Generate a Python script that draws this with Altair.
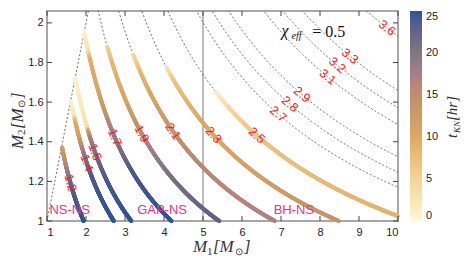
import numpy as np
import pandas as pd
import altair as alt

# ---------------- values ----------------
contour_levels = [1.2, 1.4, 1.5, 1.7, 1.9, 2.1, 2.3, 2.5, 2.7, 2.8, 2.9, 3.1, 3.2, 3.3, 3.6]
label_text = ["1.2", "1.4", "1.5", "1.7", "1.9", "2.1", "2.3", "2.5",
              "2.7", "2.8", "2.9", "3.1", "3.2", "3.3", "3.6"]
label_m1 = [1.60, 2.02, 2.23, 2.74, 3.43, 4.23, 5.27, 6.38, 6.93, 7.23, 7.54, 8.20, 8.44, 8.77, 9.72]

band_levels = [1.2, 1.4, 1.5, 1.7, 1.9, 2.1, 2.3, 2.5]
band_start_m2 = [1.37, 1.60, 1.72, 1.95, 1.88, 1.84, 1.77, 1.65]
band_node_m2 = [
    [1.37, 1.30, 1.24, 1.17, 1.00],
    [1.60, 1.53, 1.50, 1.42, 1.36, 1.30, 1.22, 1.00],
    [1.72, 1.47, 1.45, 1.42, 1.36, 1.30, 1.20, 1.00],
    [1.95, 1.86, 1.82, 1.65, 1.55, 1.45, 1.35, 1.25, 1.00],
    [1.88, 1.80, 1.60, 1.50, 1.40, 1.30, 1.20, 1.00],
    [1.84, 1.75, 1.60, 1.50, 1.40, 1.20, 1.00],
    [1.77, 1.70, 1.50, 1.30, 1.10, 1.00],
    [1.65, 1.55, 1.40, 1.20, 1.00],
]
band_node_t = [
    [12, 15, 19, 23, 25],
    [1, 2, 9, 12, 17, 21, 24, 25],
    [1, 3, 12, 17, 20, 22, 24, 25],
    [1, 3, 9, 11, 14, 18, 21, 24, 25],
    [5, 8, 11, 14, 17, 19, 21, 23],
    [4, 8, 11, 13, 15, 16, 17],
    [3, 7, 10, 11, 13, 14],
    [1, 5, 7, 8, 9],
]

region_text = ["NS-NS", "GAP-NS", "BH-NS"]
region_m1 = [1.58, 3.95, 7.33]
region_m2 = [1.055, 1.055, 1.055]

vline_m1 = [5]
diag_m = [1.0, 2.1]
x_ticks = [1, 2, 3, 4, 5, 6, 7, 8, 9, 10]
y_ticks = [1.0, 1.2, 1.4, 1.6, 1.8, 2.0]
legend_ticks = [0, 5, 10, 15, 20, 25]
cmap_colors = ["#fff7d6", "#f6d495", "#dfa862", "#bc9168", "#7d7880", "#2b5593"]

annot_text = ["χ", "eff", "= 0.5"]
annot_m1 = [7.015, 7.27, 7.80]
annot_m2 = [1.935, 1.918, 1.928]

# title pieces
xtitle_pieces = ["M", "1", "[M", "⊙", "]"]
ytitle_pieces = ["M", "2", "[M", "⊙", "]"]
ltitle_pieces = ["t", "KN", "[hr]"]

# ---------------- geometry ----------------
W, H = 351, 210
XMIN, XMAX, YMIN, YMAX = 1, 10, 1, 2.06
SX, SY = W / (XMAX - XMIN), H / (YMAX - YMIN)


def partner(mc, m):
    c = mc ** 5
    r = np.roots([m ** 3, 0.0, -c, -c * m])
    r = r[np.abs(r.imag) < 1e-9].real
    return float(r[r > 0].max())


rows = []
for lv in contour_levels:
    d = lv * 2 ** 0.2
    for m1 in np.linspace(d, 10, 400):
        m2 = partner(lv, m1)
        if m2 >= 0.99:
            rows.append({"lvl": lv, "m1": m1, "m2": m2})
contours = pd.DataFrame(rows)

diag = pd.DataFrame({"m1": diag_m, "m2": diag_m})

seg = []
for lv, s2, nm, nt in zip(band_levels, band_start_m2, band_node_m2, band_node_t):
    a = partner(lv, s2)
    b = min(10.0, partner(lv, 1.0))
    xs_ = np.linspace(a, b, 300)
    ys_ = np.array([partner(lv, v) for v in xs_])
    mids = 0.5 * (ys_[:-1] + ys_[1:])
    tv = np.interp(mids, nm[::-1], nt[::-1])
    for i in range(len(xs_) - 1):
        seg.append({"m1": xs_[i], "m2": ys_[i], "m1b": xs_[i + 1], "m2b": ys_[i + 1], "t": tv[i]})
bands = pd.DataFrame(seg)

lab = []
for txt, lv, m1 in zip(label_text, contour_levels, label_m1):
    m2 = partner(lv, m1)
    ya, yb_ = partner(lv, m1 - 0.03), partner(lv, m1 + 0.03)
    ang = np.degrees(np.arctan2(-(yb_ - ya) * SY, 0.06 * SX)) % 360
    lab.append({"txt": txt, "m1": m1, "m2": m2, "ang": ang})
labels = pd.DataFrame(lab)

regions = pd.DataFrame({"txt": region_text, "m1": region_m1, "m2": region_m2})

# ---------------- encodings ----------------
xs = alt.Scale(domain=[XMIN, XMAX], nice=False, zero=False)
ys = alt.Scale(domain=[YMIN, YMAX], nice=False, zero=False)
x_axis = alt.Axis(values=x_ticks, format="d", title=None, grid=False, ticks=False,
                  domain=False, labelPadding=5)
y_axis = alt.Axis(values=y_ticks, format=".1~f", title=None, grid=False, ticks=False,
                  domain=False, labelPadding=4)


def X(f="m1"):
    return alt.X(f"{f}:Q", scale=xs, axis=x_axis)


def Y(f="m2"):
    return alt.Y(f"{f}:Q", scale=ys, axis=y_axis)


vline = alt.Chart(pd.DataFrame({"m1": vline_m1})).mark_rule(
    color="#a6a6a6", strokeWidth=1.5).encode(x=X())

dashed = alt.Chart(contours).mark_line(
    strokeDash=[2, 2], strokeWidth=0.7, color="#333333", clip=True
).encode(x=X(), y=Y(), detail="lvl:N", order="m1:Q")

diag_line = alt.Chart(diag).mark_line(
    strokeDash=[2, 2], strokeWidth=0.7, color="#333333", clip=True
).encode(x=X(), y=Y())

band_chart = alt.Chart(bands).mark_rule(strokeWidth=4, strokeCap="round").encode(
    x=X(), y=Y(), x2="m1b:Q", y2="m2b:Q",
    color=alt.Color("t:Q", scale=alt.Scale(domain=legend_ticks, range=cmap_colors),
                    legend=alt.Legend(title=None, values=legend_ticks, gradientLength=H,
                                      gradientThickness=12, labelFontSize=11, offset=12,
                                      padding=0, labelOffset=4, labelColor="#222",
                                      labelFont="Liberation Sans", gradientStrokeWidth=0)),
)

label_chart = alt.Chart(labels).mark_text(
    color="#ff1414", fontSize=12.5, font="Liberation Sans", baseline="middle", align="center"
).encode(x=X(), y=Y(), text="txt:N", angle=alt.Angle("ang:Q", scale=None))

region_chart = alt.Chart(regions).mark_text(
    color="#e8318a", fontSize=13, font="Liberation Sans", baseline="middle", align="center"
).encode(x=X(), y=Y(), text="txt:N")

annot = pd.DataFrame({"txt": annot_text, "m1": annot_m1, "m2": annot_m2,
                      "fs": [16, 10, 16], "st": ["italic", "italic", "normal"]})
annot_layers = []
for i in range(len(annot)):
    r = annot.iloc[[i]]
    annot_layers.append(alt.Chart(r).mark_text(
        align="left", baseline="alphabetic", font="Liberation Serif",
        fontSize=float(r["fs"].iloc[0]), fontStyle=r["st"].iloc[0], color="#111"
    ).encode(x=X(), y=Y(), text="txt:N"))

tick_style = dict(color="#444", strokeWidth=1)
xt = pd.DataFrame({"m1": x_ticks})
yt = pd.DataFrame({"m2": y_ticks})
ticks = [
    alt.Chart(xt).mark_rule(**tick_style).encode(x=X(), y=alt.value(H), y2=alt.value(H - 5)),
    alt.Chart(xt).mark_rule(**tick_style).encode(x=X(), y=alt.value(0), y2=alt.value(5)),
    alt.Chart(yt).mark_rule(**tick_style).encode(y=Y(), x=alt.value(0), x2=alt.value(5)),
    alt.Chart(yt).mark_rule(**tick_style).encode(y=Y(), x=alt.value(W), x2=alt.value(W - 5)),
]


def piece(txt, px, py, size, angle=0, italic=True):
    kw = dict(align="left", baseline="alphabetic", font="Liberation Serif",
              fontStyle="italic" if italic else "normal", fontSize=size, color="#333")
    if angle:
        kw["angle"] = angle
    return alt.Chart(pd.DataFrame({"txt": [txt]})).mark_text(**kw).encode(
        text="txt:N", x=alt.value(px), y=alt.value(py))


# x title (horizontal), pixel offsets relative to plot origin
xb = H + 31
xtitle = [
    piece(xtitle_pieces[0], 146, xb, 17),
    piece(xtitle_pieces[1], 160, xb + 3, 11, italic=False),
    piece(xtitle_pieces[2], 166, xb, 17),
    piece(xtitle_pieces[3], 188, xb + 3, 10, italic=False),
    piece(xtitle_pieces[4], 197, xb, 17),
]
# y title (rotated, reading upward)
yb = -24
ytitle = [
    piece(ytitle_pieces[0], yb, 138, 17, 270),
    piece(ytitle_pieces[1], yb + 2, 124, 11, 270, italic=False),
    piece(ytitle_pieces[2], yb, 118, 17, 270),
    piece(ytitle_pieces[3], yb + 2, 97, 10, 270, italic=False),
    piece(ytitle_pieces[4], yb, 88, 17, 270),
]
# legend title (rotated, reading upward)
lb = 410
ltitle = [
    piece(ltitle_pieces[0], lb, 127, 15, 270),
    piece(ltitle_pieces[1], lb + 3, 122, 9, 270),
    piece(ltitle_pieces[2], lb, 110, 15, 270),
]

chart = alt.layer(
    vline, dashed, diag_line, band_chart, label_chart, region_chart,
    *annot_layers, *ticks, *xtitle, *ytitle, *ltitle
).properties(
    width=W, height=H,
    autosize=alt.AutoSizeParams(type="none"),
    padding={"left": 39, "top": 3, "right": 63, "bottom": 35},
).configure_view(
    stroke="#8a8a8a", strokeWidth=1.5
).configure_axis(
    labelFont="Liberation Sans", labelFontSize=11, labelColor="#222"
)

chart.save("out.html", embed_options={"renderer": "svg", "actions": False})
